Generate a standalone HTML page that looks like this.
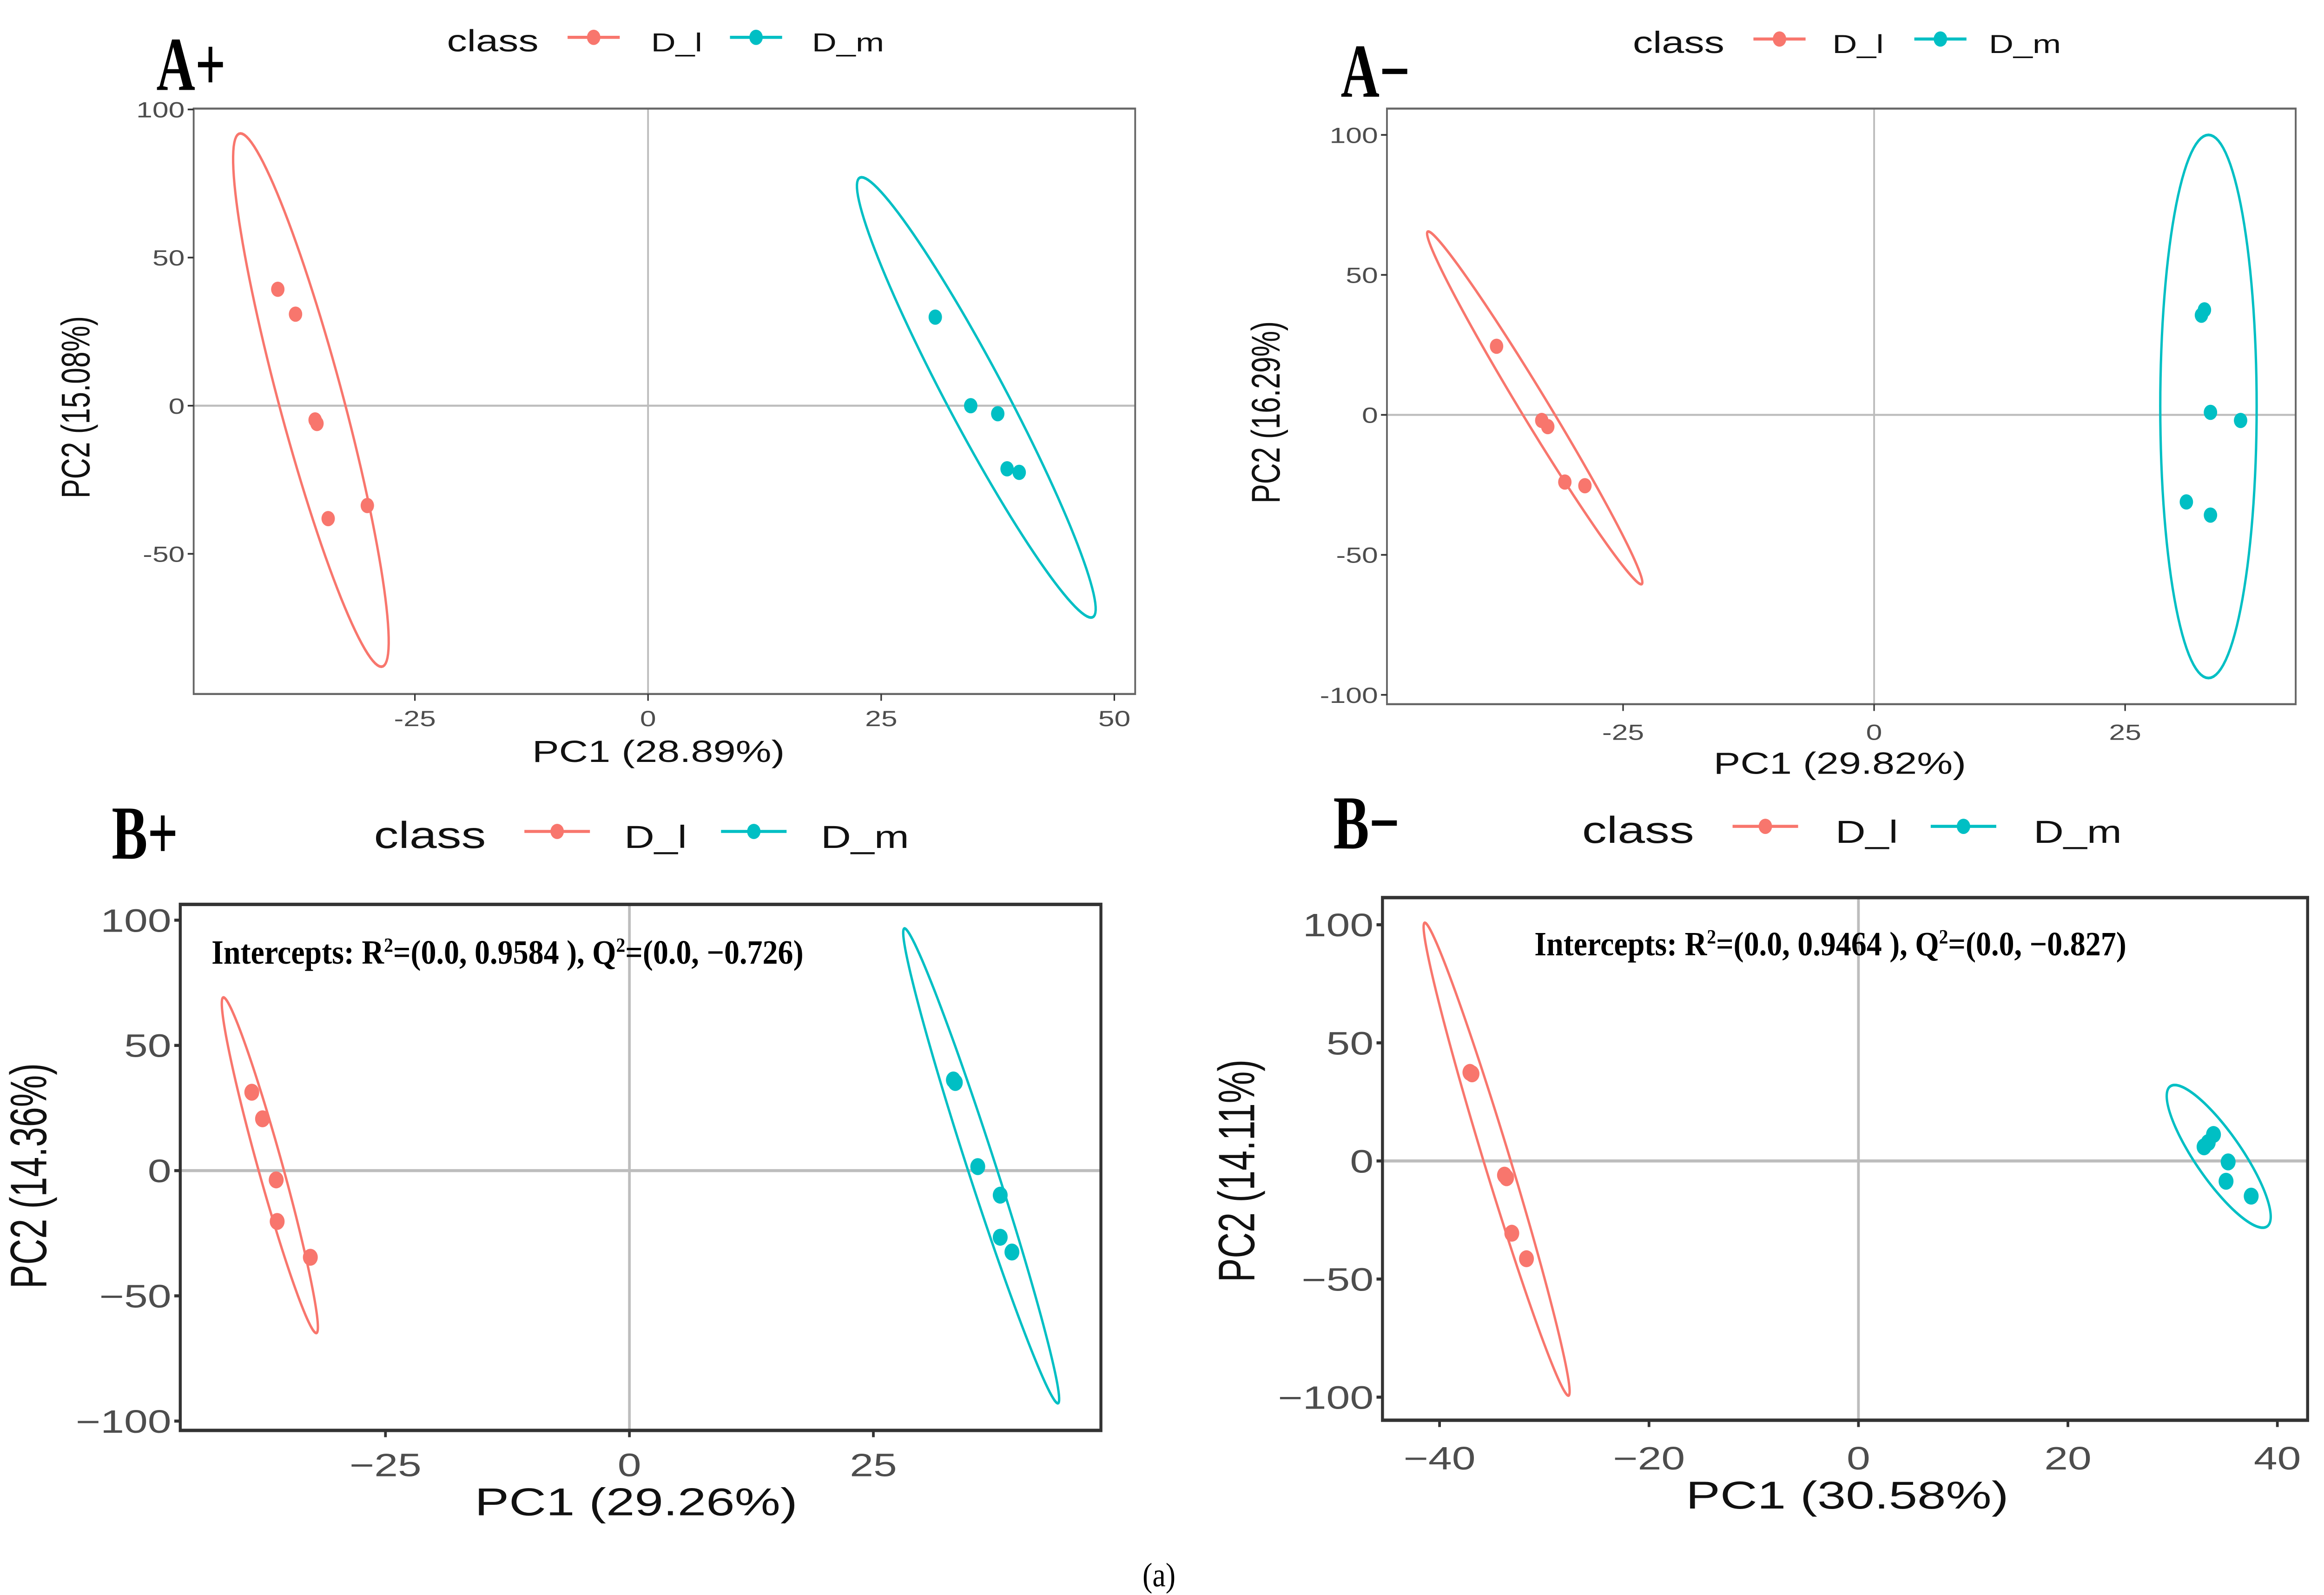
<!DOCTYPE html>
<html><head><meta charset="utf-8"><style>
html,body{margin:0;padding:0;background:#fff;width:100%;height:100%;overflow:hidden;}
svg{display:block;width:100vw;height:100vh;}
.sans{font-family:"Liberation Sans",sans-serif;}
.serif{font-family:"Liberation Serif",serif;font-weight:bold;}
</style></head><body>
<svg id="chart" viewBox="0 0 1560 940" preserveAspectRatio="none" xmlns="http://www.w3.org/2000/svg">
<rect x="0" y="0" width="1560" height="940" fill="#fff"/>
<text x="778" y="935" font-size="20" text-anchor="middle" style="font-family:'Liberation Serif',serif;font-weight:normal">(a)</text>
</svg>
<script>
// ---- data (PC1, PC2) per panel ----
const apRedX=[-39.7,-37.8,-35.7,-35.5,-34.3,-30.1];
const apRedY=[39.3,30.9,-4.8,-6.0,-38.1,-33.7];
const apCyanX=[30.8,34.6,37.5,38.5,39.8];
const apCyanY=[29.9,0,-2.7,-21.3,-22.5];
const amRedX=[-37.6,-33.1,-32.5,-30.8,-28.8];
const amRedY=[24.5,-2.0,-4.2,-24.0,-25.3];
const amCyanX=[32.9,32.6,33.5,36.5,31.1,33.5];
const amCyanY=[37.5,35.6,0.9,-2.0,-31.1,-35.8];
const bpRedX=[-38.7,-37.6,-36.2,-36.1,-32.7];
const bpRedY=[31.3,20.7,-3.7,-20.3,-34.6];
const bpCyanX=[33.2,33.4,35.7,38.0,38.0,39.2];
const bpCyanY=[36.2,35.2,1.6,-9.8,-26.6,-32.5];
const bmRedX=[-37.1,-36.9,-33.8,-33.6,-33.1,-31.7];
const bmRedY=[37.5,36.9,-6.0,-7.1,-30.6,-41.4];
const bmCyanX=[33.0,33.4,33.9,35.3,35.1,37.5];
const bmCyanY=[6.0,7.8,11.2,-0.4,-8.6,-14.9];
// ellipses: [centerX, centerY, topOffsetX, topOffsetY, halfWidthX]
const apRedEll=[-36.15,1.9,-7.55,90,3.55];
const apCyanEll=[35.2,2.8,-12.3,74.3,3.55];
const amRedEll=[-33.8,2.5,-10.6,63,1.6];
const amCyanEll=[33.3,3,0,97,4.8];
const bpRedEll=[-36.85,2.15,-4.75,67,1.3];
const bpCyanEll=[36.05,1.9,-7.85,94.8,1.5];
const bmRedEll=[-34.55,0.75,-6.85,100.1,1.3];
const bmCyanEll=[34.4,1.95,-4.2,30.2,2.65];
// tick labels
const apXTicks=[-25,0,25,50];const apYTicks=[100,50,0,-50];
const amXTicks=[-25,0,25];const amYTicks=[100,50,0,-50,-100];
const bpXTicks=[-25,0,25];const bpYTicks=[100,50,0,-50,-100];
const bmXTicks=[-40,-20,0,20,40];const bmYTicks=[100,50,0,-50,-100];

const NS="http://www.w3.org/2000/svg";
const svg=document.getElementById('chart');
const RED="#F8766D",CYAN="#00BFC4";
const SX=1.5;
function mk(tag,attrs,parent){const e=document.createElementNS(NS,tag);for(const k in attrs)e.setAttribute(k,attrs[k]);(parent||svg).appendChild(e);return e;}
function fmt(v,minus){return v<0?(minus?'\u2212':'-')+Math.abs(v):String(v);}
function txt(parent,x,y,str,fs,anchor,fill){
  const t=mk('text',{x:0,y:0,'font-size':fs,'text-anchor':anchor,class:'sans',fill:fill,transform:`translate(${x},${y}) scale(${SX},1)`},parent);
  t.textContent=str;return t;
}

function panel(p){
  const g=mk('g',{});
  
  
  const sx=v=>p.x0+p.kx*v, sy=v=>p.y0-p.ky*v;
  const [L,R,T,B]=p.box;
  const vz=mk('line',{x1:sx(0),x2:sx(0),y1:T,y2:B,stroke:'#bdbdbd','stroke-width':p.b?1.8:1.2},g);
  
  const hz=mk('line',{x1:L,x2:R,y1:sy(0),y2:sy(0),stroke:'#bdbdbd','stroke-width':p.b?1.8:1.2},g);
  
  const fr=mk('rect',{x:L,y:T,width:R-L,height:B-T,fill:'none',stroke:p.b?'#333':'#666','stroke-width':p.b?2:1.2},g);
  
  p.xt.forEach(v=>{
    mk('line',{x1:sx(v),x2:sx(v),y1:B,y2:B+4,stroke:'#333','stroke-width':p.b?1.8:1},g);
    const t=txt(g,sx(v),p.xty,fmt(v,p.b),p.tfs,'middle','#4d4d4d');
    
    
  });
  p.yt.forEach(v=>{
    mk('line',{x1:L-4,x2:L,y1:sy(v),y2:sy(v),stroke:'#333','stroke-width':p.b?1.8:1},g);
    const t=txt(g,L-6,sy(v)+p.tfs*0.36,fmt(v,p.b),p.tfs,'end','#4d4d4d');
    
    
  });
  const xt=txt(g,p.xl[0],p.xl[1],p.xlab,p.afs,'middle','#111');
  
  
  const yt=mk('text',{x:0,y:0,'font-size':p.afs,'text-anchor':'middle',class:'sans',fill:'#111',transform:`translate(${p.yl[0]},${p.yl[1]}) rotate(-90) scale(${p.ysq},${SX})`},g);
  yt.textContent=p.ylab;
  
  
  [[p.re,RED],[p.ce,CYAN]].forEach(([e,c])=>{
    let d='';
    for(let i=0;i<=120;i++){const t=i/120*2*Math.PI;
      const X=e[0]+e[2]*Math.cos(t)+e[4]*Math.sin(t), Y=e[1]+e[3]*Math.cos(t);
      d+=(i?'L':'M')+sx(X).toFixed(2)+' '+sy(Y).toFixed(2);}
    const el=mk('path',{d:d+'Z',fill:'none',stroke:c,'stroke-width':1.6},g);
    
    
  });
  [[p.rx,p.ry,RED],[p.cx,p.cy,CYAN]].forEach(([xs,ys,c])=>{
    xs.forEach((v,i)=>{
      const pt=mk('circle',{cx:sx(v),cy:sy(ys[i]),r:p.b?5:4.5,fill:c},g);
      
      
    });
  });
  const lg=mk('g',{},g);
  
  
  const [lx,ly,fs,sc]=p.leg;
  const ct=txt(lg,lx,ly+fs*0.35,'class',fs,'start','#111');
  
  
  const items=[['D_l',RED,p.legpos[0],p.legpos[1]],['D_m',CYAN,p.legpos[2],p.legpos[3]]];
  items.forEach(([lab,c,x1,tx])=>{
    const e=mk('g',{},lg);
    
    
    mk('line',{x1:x1,x2:x1+sc,y1:ly-2,y2:ly-2,stroke:c,'stroke-width':1.8},e);
    mk('circle',{cx:x1+sc/2,cy:ly-2,r:4.5,fill:c},e);
    txt(e,tx,ly+fs*0.35,lab,fs*0.85,'start','#111');
  });
  const pl=mk('text',{x:0,y:0,'font-size':p.pl[2],class:'serif',fill:'#000',transform:`translate(${p.pl[0]},${p.pl[1]}) scale(1,1.25)`},g);
  pl.textContent=p.plab;
  
  
  if(p.inter){
    const it=mk('text',{x:0,y:0,'font-size':20,class:'serif',fill:'#000',transform:`translate(${p.inter[0]},${p.inter[1]}) scale(1.03,1)`},g);
    it.innerHTML=p.inter[2];
    
    
  }
}
panel({id:'a-plus',b:false,box:[130,762,64,409],x0:435,kx:6.26,y0:239.1,ky:1.746,xt:apXTicks,yt:apYTicks,xty:428,tfs:13,afs:18,
  xl:[442,449],yl:[60,240],ysq:0.95,xlab:'PC1 (28.89%)',ylab:'PC2 (15.08%)',re:apRedEll,ce:apCyanEll,rx:apRedX,ry:apRedY,cx:apCyanX,cy:apCyanY,
  leg:[300,24,18,35],legpos:[381,437,490,545],pl:[105,53,36],plab:'A+'});
panel({id:'a-minus',b:false,box:[931,1541,64,415],x0:1258,kx:6.74,y0:244.5,ky:1.65,xt:amXTicks,yt:amYTicks,xty:436,tfs:13,afs:18,
  xl:[1235,456],yl:[859,243],ysq:0.95,xlab:'PC1 (29.82%)',ylab:'PC2 (16.29%)',re:amRedEll,ce:amCyanEll,rx:amRedX,ry:amRedY,cx:amCyanX,cy:amCyanY,
  leg:[1096,25,18,35],legpos:[1177,1230,1285,1335],pl:[900,57,36],plab:'A\u2212'});
panel({id:'b-plus',b:true,box:[121,739,533,843],x0:422.5,kx:6.55,y0:689.9,ky:1.476,xt:bpXTicks,yt:bpYTicks,xty:870,tfs:19,afs:23,
  xl:[427,893],yl:[31,693],ysq:0.92,xlab:'PC1 (29.26%)',ylab:'PC2 (14.36%)',re:bpRedEll,ce:bpCyanEll,rx:bpRedX,ry:bpRedY,cx:bpCyanX,cy:bpCyanY,
  leg:[251,492,22,44],legpos:[352,419,484,551],pl:[75,506,36],plab:'B+',
  inter:[142,568,'Intercepts: R<tspan dy="-7" font-size="12">2</tspan><tspan dy="7">=(0.0, 0.9584 ), Q</tspan><tspan dy="-7" font-size="12">2</tspan><tspan dy="7">=(0.0, \u22120.726)</tspan>']});
panel({id:'b-minus',b:true,box:[928,1549,529,837],x0:1247.5,kx:7.03,y0:684.2,ky:1.392,xt:bmXTicks,yt:bmYTicks,xty:866,tfs:19,afs:23,
  xl:[1240,889],yl:[842,690],ysq:0.92,xlab:'PC1 (30.58%)',ylab:'PC2 (14.11%)',re:bmRedEll,ce:bmCyanEll,rx:bmRedX,ry:bmRedY,cx:bmCyanX,cy:bmCyanY,
  leg:[1062,489,22,44],legpos:[1163,1232,1296,1365],pl:[895,500,36],plab:'B\u2212',
  inter:[1030,563,'Intercepts: R<tspan dy="-7" font-size="12">2</tspan><tspan dy="7">=(0.0, 0.9464 ), Q</tspan><tspan dy="-7" font-size="12">2</tspan><tspan dy="7">=(0.0, \u22120.827)</tspan>']});
</script>
</body></html>
